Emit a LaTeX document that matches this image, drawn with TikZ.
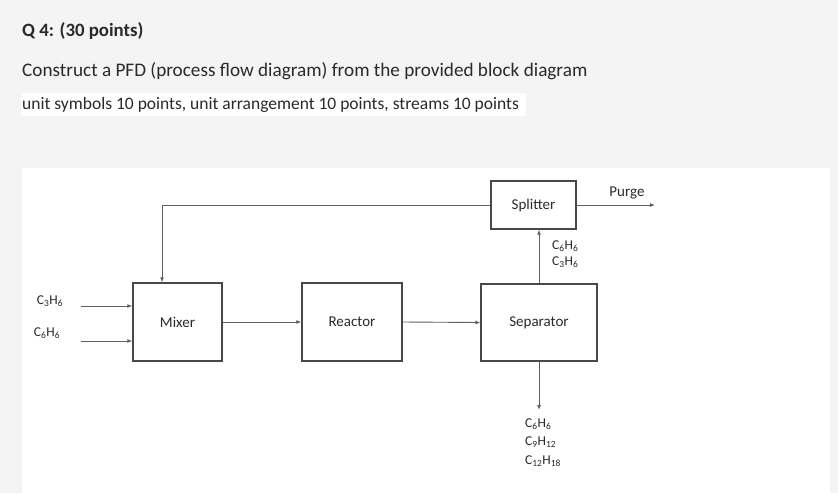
\documentclass[tikz,border=0pt]{standalone}
\usepackage{fontspec}
\setmainfont{Carlito}
\usetikzlibrary{arrows.meta}
\definecolor{bgcol}{HTML}{F4F4F4}
\definecolor{boxcol}{HTML}{484848}
\definecolor{linecol}{HTML}{606060}
\definecolor{txtcol}{HTML}{2A2A2A}
\tikzset{
  unit/.style={draw=boxcol, line width=1.3pt, fill=white, rectangle, inner sep=0pt,
    font=\fontsize{15}{17}\selectfont, text=txtcol},
  stream/.style={draw=linecol, line width=0.9pt, -{Latex[length=5pt,width=4pt]}},
  formula/.style={inner sep=0pt, font=\fontsize{13.5}{15}\selectfont, text=txtcol},
  header/.style={inner sep=0pt, anchor=west, text=txtcol},
}
\newcommand{\chem}[4]{#1\textsubscript{#2}#3\textsubscript{#4}}
\begin{document}
\begin{tikzpicture}[x=1pt,y=-1pt]
\useasboundingbox (0,0) rectangle (838,493);
\fill[bgcol] (0,0) rectangle (838,493);
\fill[white] (22,168) rectangle (830,493);
\fill[white] (21,93) rectangle (526,116);
% header texts
\node[header, font=\fontsize{18.8}{22}\selectfont\bfseries] (title) at (22,31) {Q 4: (30 points)};
\node[header, font=\fontsize{19.2}{22}\selectfont] (task) at (22,71) {Construct a PFD (process flow diagram) from the provided block diagram};
\node[header, font=\fontsize{17.5}{20}\selectfont] (points) at (22,105) {unit symbols 10 points, unit arrangement 10 points, streams 10 points};
% units
\node[unit, minimum width=89pt, minimum height=78pt] (mixer) at (177.5,322) {Mixer};
\node[unit, minimum width=100pt, minimum height=78pt] (reactor) at (352,322) {Reactor};
\node[unit, minimum width=116pt, minimum height=77pt] (separator) at (539,322.5) {Separator};
\node[unit, minimum width=85pt, minimum height=48pt] (splitter) at (533.5,205) {Splitter};
% coordinates
\coordinate (in1) at (81,306);
\coordinate (in2) at (81,341);
\coordinate (rc) at (162,205);
\coordinate (purgeend) at (655,205);
\coordinate (bot) at (539,410);
% streams
\draw[stream] (in1) -- (in1 -| mixer.west);
\draw[stream] (in2) -- (in2 -| mixer.west);
\draw[stream] (mixer.east) -- (reactor.west);
\draw[stream] (reactor.east) -- (separator.west);
\draw[stream] (separator.north) -- (separator.north |- splitter.south);
\draw[stream] (splitter.west) -- (rc) -- (rc |- mixer.north);
\draw[stream] (splitter.east) -- (purgeend);
\draw[stream] (separator.south) -- (bot);
% labels
\node[formula] (lin1) at (50,301) {\chem{C}{3}{H}{6}};
\node[formula] (lin2) at (47,333) {\chem{C}{6}{H}{6}};
\node[inner sep=0pt, font=\fontsize{15}{17}\selectfont, text=txtcol] (purge) at (627,193) {Purge};
\node[formula, anchor=west] (top1) at (552,246) {\chem{C}{6}{H}{6}};
\node[formula, anchor=west] (top2) at (552,262) {\chem{C}{3}{H}{6}};
\node[formula, anchor=west] (b1) at (525,424) {\chem{C}{6}{H}{6}};
\node[formula, anchor=west] (b2) at (525,442) {\chem{C}{9}{H}{12}};
\node[formula, anchor=west] (b3) at (525,461) {\chem{C}{12}{H}{18}};
\end{tikzpicture}
\end{document}
